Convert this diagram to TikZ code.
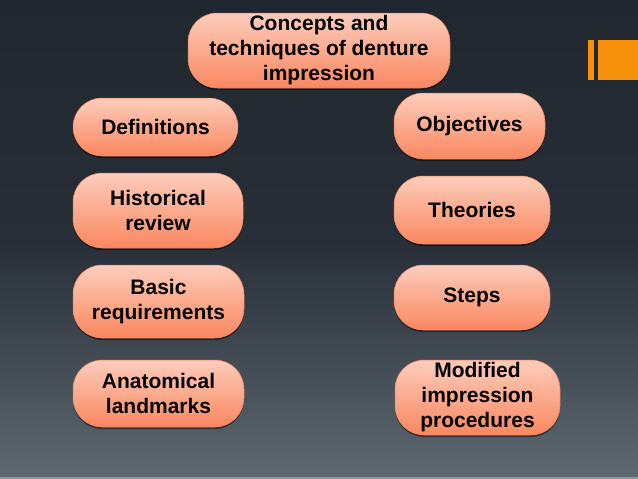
\documentclass[tikz,border=0pt]{standalone}
\usepackage{fontspec}
\setmainfont{Liberation Sans}
\usetikzlibrary{shadows}
\definecolor{bgtop}{HTML}{20272F}
\definecolor{bgmid}{HTML}{272E37}
\definecolor{bgbot}{HTML}{5D6871}
\definecolor{boxtop}{HTML}{FDCDBC}
\definecolor{boxbot}{HTML}{FA8760}
\definecolor{boxedge}{HTML}{E9805E}
\definecolor{accent}{HTML}{F7900A}
\definecolor{strip}{HTML}{8C9298}
\tikzset{
  pill/.style={rounded corners=29pt, top color=boxtop, bottom color=boxbot,
    draw=boxedge, line width=0.5pt, align=center, inner sep=0pt,
    font=\fontsize{21}{25}\selectfont\bfseries, text=black,
    drop shadow={shadow xshift=0pt, shadow yshift=-2pt, opacity=0.45, fill=black}}
}
\begin{document}
\begin{tikzpicture}[x=1pt,y=-1pt]
\useasboundingbox (0,0) rectangle (638,479);
% background
\shade[top color=bgtop, bottom color=bgmid] (0,0) rectangle (638,240);
\shade[top color=bgmid, bottom color=bgbot] (0,240) rectangle (638,477);
\fill[strip] (0,477) rectangle (638,479);
% accent bars
\fill[accent] (588,40) rectangle (594,80);
\fill[accent] (598,40) rectangle (638,80);
% nodes
\node[pill, minimum width=262pt, minimum height=75pt] (top) at (319,50.5) {Concepts and\\techniques of denture\\impression};
\node[pill, minimum width=165pt, minimum height=58pt] (defs) at (155.5,127) {Definitions};
\node[pill, minimum width=170pt, minimum height=75pt] (hist) at (158,210.5) {Historical\\review};
\node[pill, minimum width=171pt, minimum height=73pt] (basic) at (158.5,301.5) {Basic\\requirements};
\node[pill, minimum width=171pt, minimum height=67pt] (anat) at (158.5,393.5) {Anatomical\\landmarks};
\node[pill, minimum width=151pt, minimum height=66pt] (obj) at (469.5,126) {Objectives};
\node[pill, minimum width=156pt, minimum height=68pt] (theo) at (472,210) {Theories};
\node[pill, minimum width=156pt, minimum height=65pt] (steps) at (472,297.5) {Steps};
\node[pill, minimum width=165pt, minimum height=75pt] (mod) at (477.5,397.5) {Modified\\impression\\procedures};
\end{tikzpicture}
\end{document}
